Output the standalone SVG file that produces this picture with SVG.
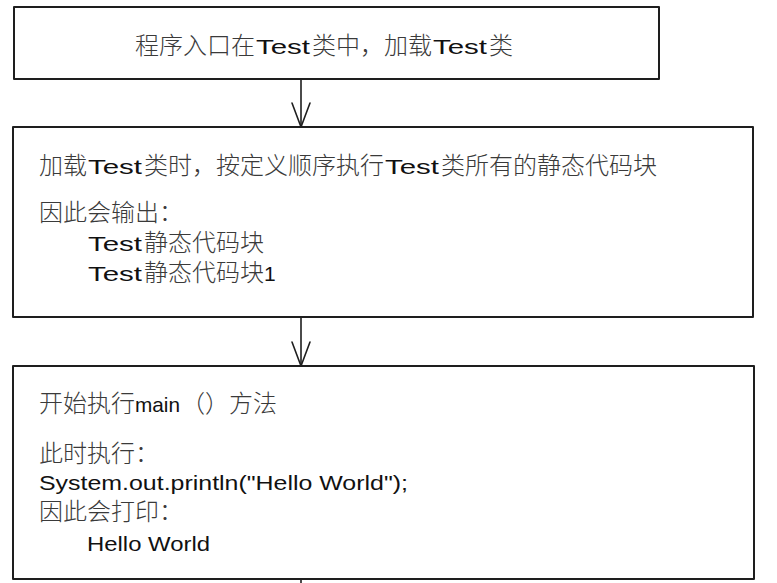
<svg xmlns="http://www.w3.org/2000/svg" width="777" height="583" viewBox="0 0 777 583">
  <defs>
    <style>
      .box { fill: #ffffff; stroke: #1e1e1e; stroke-width: 2; stroke-linejoin: round; }
      .edge { fill: none; stroke: #1e1e1e; stroke-width: 1.6; stroke-linecap: round; stroke-linejoin: round; }
      .cjk { font-family: "Noto Sans CJK SC", "Noto Sans", sans-serif; font-size: 24px; fill: #3a3a3a; font-weight: 300; }
      .lat { font-family: "Liberation Sans", "Noto Sans", sans-serif; font-size: 21px; fill: #111111; }
    </style>
  </defs>
  <rect width="777" height="583" fill="#ffffff"/>

  <g id="connectors">
    <g id="arrow1">
      <path class="edge" d="M301 79 L301 126"/>
      <path class="edge" d="M292 103 L301 127 L310 103"/>
    </g>
    <g id="arrow2">
      <path class="edge" d="M301 318 L301 365"/>
      <path class="edge" d="M292 342 L301 366 L310 342"/>
    </g>
    <g id="arrow3">
      <path class="edge" d="M301 579 L301 583"/>
    </g>
  </g>

  <g id="node1">
    <rect class="box" x="14" y="7" width="645" height="72"/>
    <text y="54">
      <tspan class="cjk" x="135">程序入口在</tspan><tspan class="lat" x="256" textLength="54" lengthAdjust="spacingAndGlyphs">Test</tspan><tspan class="cjk" x="312">类中，加载</tspan><tspan class="lat" x="433" textLength="54" lengthAdjust="spacingAndGlyphs">Test</tspan><tspan class="cjk" x="489">类</tspan>
    </text>
  </g>

  <g id="node2">
    <rect class="box" x="13" y="127" width="740" height="190"/>
    <text y="174">
      <tspan class="cjk" x="39">加载</tspan><tspan class="lat" x="88" textLength="54" lengthAdjust="spacingAndGlyphs">Test</tspan><tspan class="cjk" x="144">类时，按定义顺序执行</tspan><tspan class="lat" x="385" textLength="54" lengthAdjust="spacingAndGlyphs">Test</tspan><tspan class="cjk" x="441">类所有的静态代码块</tspan>
    </text>
    <text class="cjk" x="39" y="221">因此会输出：</text>
    <text y="251">
      <tspan class="lat" x="88" textLength="54" lengthAdjust="spacingAndGlyphs">Test</tspan><tspan class="cjk" x="144">静态代码块</tspan>
    </text>
    <text y="281">
      <tspan class="lat" x="88" textLength="54" lengthAdjust="spacingAndGlyphs">Test</tspan><tspan class="cjk" x="144">静态代码块</tspan><tspan class="lat" x="264">1</tspan>
    </text>
  </g>

  <g id="node3">
    <rect class="box" x="13" y="366" width="741" height="213"/>
    <text y="412">
      <tspan class="cjk" x="39">开始执行</tspan><tspan class="lat" x="135" textLength="45" lengthAdjust="spacingAndGlyphs">main</tspan><tspan class="cjk" x="181">（）方法</tspan>
    </text>
    <text class="cjk" x="39" y="462">此时执行：</text>
    <text class="lat" x="39" y="490" textLength="369" lengthAdjust="spacingAndGlyphs">System.out.println("Hello World");</text>
    <text class="cjk" x="39" y="520">因此会打印：</text>
    <text class="lat" x="87" y="551" textLength="123" lengthAdjust="spacingAndGlyphs">Hello World</text>
  </g>
</svg>
